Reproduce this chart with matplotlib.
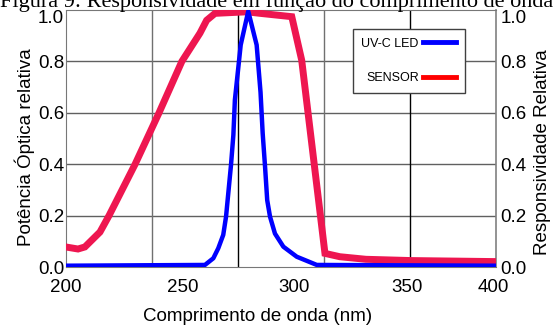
import matplotlib
matplotlib.use("Agg")
import matplotlib.pyplot as plt
from matplotlib.lines import Line2D
from matplotlib.transforms import ScaledTranslation

plt.rcParams['font.family'] = ['Liberation Sans', 'DejaVu Sans']

# wavelength (nm) / relative value
sensor_nm = [200.1, 205.8, 209.0, 216.0, 220.2, 232.3, 243.4, 254.0, 262.4,
             265.5, 269.4, 284.2, 290.3, 305.0, 309.6, 320.4, 327.3, 339.4, 360.5, 399.8]
sensor_val = [0.078, 0.070, 0.078, 0.136, 0.200, 0.400, 0.600, 0.800, 0.910,
              0.960, 0.987, 0.993, 0.987, 0.974, 0.805, 0.053, 0.040, 0.030, 0.025, 0.021]

led_nm = [200.0, 264.7, 268.6, 270.9, 273.2, 274.5, 276.8, 277.9, 278.6, 281.3, 284.8,
          288.7, 290.5, 291.5, 292.6, 293.6, 294.9, 297.2, 301.1, 307.3, 316.6, 400.0]
led_val = [0.005, 0.008, 0.034, 0.073, 0.125, 0.196, 0.397, 0.514, 0.650, 0.864, 0.995,
           0.864, 0.680, 0.520, 0.390, 0.260, 0.196, 0.130, 0.079, 0.040, 0.008, 0.005]

# tick labels sit where the original figure put them (not on the grid)
xtick_pos = [200, 254.5, 306, 358.5, 398.5]
xtick_lab = ['200', '250', '300', '350', '400']
yticks = [0.0, 0.2, 0.4, 0.6, 0.8, 1.0]
vgrid = [240, 280, 320, 360]
vgrid_col = ['#707070', 'black', '#707070', 'black']

W, H = 557, 329
fig = plt.figure(figsize=(W / 100, H / 100), dpi=100)
ax = fig.add_axes([65.5 / W, 1 - 267 / H, 431 / W, 257 / H])
ax.set_xlim(200, 400)
ax.set_ylim(0, 1)

for y in yticks[1:-1]:
    ax.axhline(y, color='#606060', lw=1.0, zorder=1)
for x, c in zip(vgrid, vgrid_col):
    ax.axvline(x, color=c, lw=1.0, zorder=1)

ax.plot(sensor_nm, sensor_val, color='#ee1650', lw=5, solid_joinstyle='miter', zorder=3)
ax.plot(led_nm, led_val, color='#0000ff', lw=3.2, zorder=4)

for s in ['left', 'top', 'bottom']:
    ax.spines[s].set_linestyle((0, (1, 1)))
    ax.spines[s].set_color('#777777')
    ax.spines[s].set_linewidth(0.8)
ax.spines['right'].set_color('#808080')
ax.spines['right'].set_linewidth(1.2)

ax.set_xticks(xtick_pos)
ax.set_xticklabels(xtick_lab)
ax.set_yticks(yticks)
ax.set_yticklabels(['%.1f' % v for v in yticks])
ax.tick_params(axis='x', length=0, pad=9, labelsize=13.5)
ax.tick_params(axis='y', length=0, pad=1, labelsize=13.5)

ax2 = ax.twinx()
ax2.set_ylim(0, 1)
ax2.set_yticks(yticks)
ax2.set_yticklabels(['%.1f' % v for v in yticks])
ax2.tick_params(axis='y', length=0, pad=3, labelsize=13.5)
for s in ax2.spines.values():
    s.set_visible(False)

# the top "1.0" labels are pushed down a little in the original
down = ScaledTranslation(0, -5 / 72, fig.dpi_scale_trans)
for a in (ax, ax2):
    lab = a.get_yticklabels()[-1]
    lab.set_transform(lab.get_transform() + down)

ax.set_xlabel('Comprimento de onda (nm)', fontsize=13.5)
ax.xaxis.set_label_coords(0.446, -0.158)
ax.set_ylabel('Potência Óptica relativa', fontsize=13.5)
ax.yaxis.set_label_coords(-0.071, 0.467)
ax2.set_ylabel('Responsividade Relativa', fontsize=13.5, rotation=90)
ax2.yaxis.set_label_coords(1.088, 0.446)

handles = [Line2D([], [], color='#0000ff', lw=3.5),
           Line2D([], [], color='#ff0000', lw=3.5)]
leg = ax2.legend(handles, ['UV-C LED', 'SENSOR'], loc='upper left',
                 bbox_to_anchor=(352.7 / W, 1 - 29 / H), bbox_transform=fig.transFigure,
                 borderaxespad=0, markerfirst=False, fontsize=9, handlelength=2.7,
                 handletextpad=0.3, labelspacing=1.8, borderpad=0.7, fancybox=False,
                 framealpha=1, edgecolor='#404040')
leg.get_frame().set_linewidth(1.0)

fig.text(0.0, 1 - 7.5 / H, 'Figura 9: Responsividade em função do comprimento de onda',
         family=['Liberation Serif', 'DejaVu Serif'], fontsize=16, ha='left', va='baseline')

fig.savefig('out.png', dpi=100)
